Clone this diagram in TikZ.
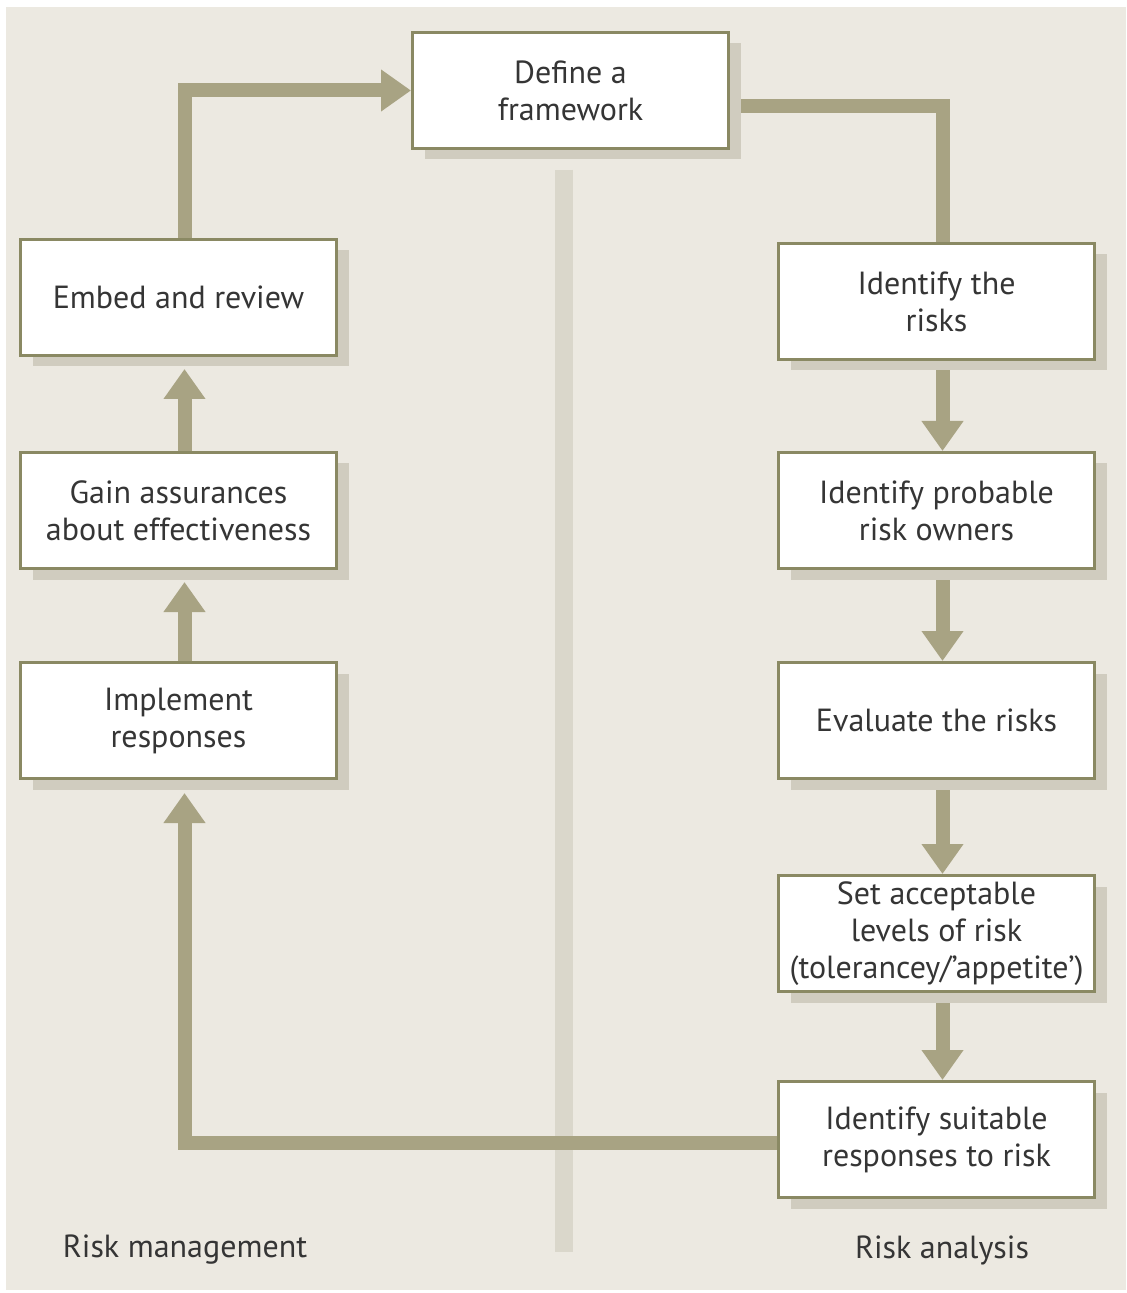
\documentclass[tikz,border=0pt]{standalone}
\usepackage{fontspec}
\setmainfont{PT Sans}
\usetikzlibrary{arrows.meta,shadows,positioning}
\definecolor{bgc}{HTML}{ECE9E1}
\definecolor{barc}{HTML}{DAD7CB}
\definecolor{boxc}{HTML}{8A8963}
\definecolor{arrc}{HTML}{A8A383}
\definecolor{shc}{HTML}{D0CCBF}
\definecolor{txtc}{HTML}{353535}
\pgfdeclarelayer{back}
\pgfdeclarelayer{mid}
\pgfsetlayers{back,mid,main}
\tikzset{
  stepbox/.style={draw=boxc, line width=1.5pt, fill=white, text=txtc,
    minimum width=158pt, minimum height=58pt, align=center, inner sep=2pt,
    font=\fontsize{16}{18.5}\selectfont,
    drop shadow={shadow xshift=6pt, shadow yshift=-5.5pt, fill=shc, opacity=1}},
  conn/.style={draw=arrc, line width=7pt},
  arr/.style={conn, -{Triangle[width=20pt,length=15pt]}},
  lbl/.style={text=txtc, font=\fontsize{16}{18.5}\selectfont}
}
\begin{document}
\begin{tikzpicture}[x=0.5pt,y=-0.5pt]
\useasboundingbox (0,0) rectangle (1127,1293);
\begin{pgfonlayer}{back}
  \fill[white] (0,0) rectangle (1127,1293);
  \fill[bgc] (6,7) rectangle (1126,1290);
\end{pgfonlayer}
\coordinate (bartop) at (564,170);
\coordinate (barbot) at (564,1252);
\begin{pgfonlayer}{back}
  \draw[draw=barc, line width=9pt] (bartop) -- (barbot);
\end{pgfonlayer}

\node[stepbox] (def) at (570.5,90.5) {Define a\\framework};
\node[stepbox] (emb) at (178.5,297.5) {Embed and review};
\node[stepbox] (gain) at (178.5,510.5) {Gain assurances\\about effectiveness};
\node[stepbox] (impl) at (178.5,720.5) {Implement\\responses};
\node[stepbox] (ir) at (936.5,301.5) {Identify the\\risks};
\node[stepbox] (ipo) at (936.5,510.5) {Identify probable\\risk owners};
\node[stepbox] (ev) at (936.5,720.5) {Evaluate the risks};
\node[stepbox] (set) at (936.5,933.5) {Set acceptable\\levels of risk\\(tolerancey/’appetite’)};
\node[stepbox] (isr) at (936.5,1139.5) {Identify suitable\\responses to risk};

\node[lbl] (lm) at (185,1250) {Risk management};
\node[lbl] (la) at (942,1250) {Risk analysis};

\coordinate (defout) at ([yshift=-8pt]def.east);
\coordinate (isrout) at ([yshift=-1.8pt]isr.west);
\begin{pgfonlayer}{mid}
  \draw[arr] ([xshift=3pt]emb.north) |- (def.west);
  \draw[conn] (defout) -| ([xshift=3pt]ir.north);
  \draw[arr] ([xshift=3pt]ir.south) -- ([xshift=3pt]ipo.north);
  \draw[arr] ([xshift=3pt]ipo.south) -- ([xshift=3pt]ev.north);
  \draw[arr] ([xshift=3pt]ev.south) -- ([xshift=3pt]set.north);
  \draw[arr] ([xshift=3pt]set.south) -- ([xshift=3pt]isr.north);
  \draw[arr] ([xshift=3pt]impl.north) -- ([xshift=3pt,yshift=-6pt]gain.south);
  \draw[arr] ([xshift=3pt]gain.north) -- ([xshift=3pt,yshift=-6pt]emb.south);
  \draw[arr] (isrout) -| ([xshift=3pt,yshift=-6.5pt]impl.south);
\end{pgfonlayer}
\end{tikzpicture}
\end{document}
